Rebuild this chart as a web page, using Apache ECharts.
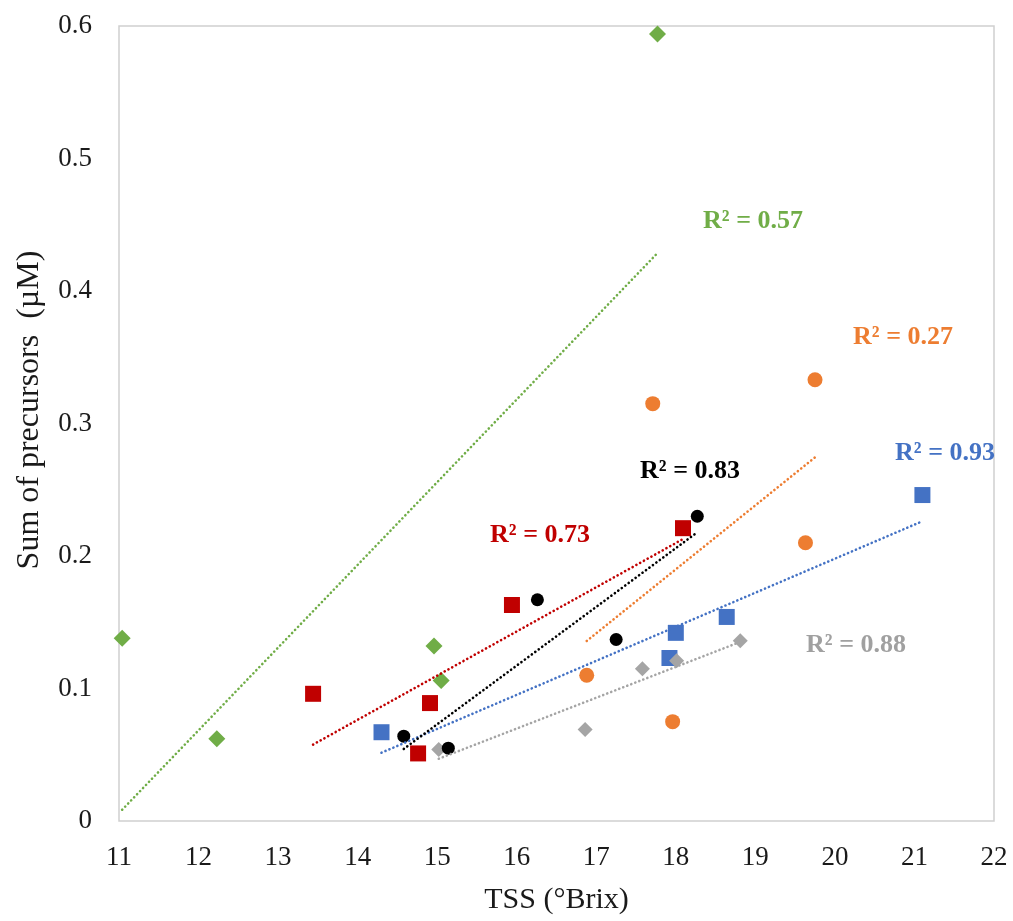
<!DOCTYPE html>
<html>
<head>
<meta charset="utf-8">
<title>TSS vs Sum of precursors</title>
<script src="https://cdn.jsdelivr.net/npm/echarts@6.0.0/dist/echarts.min.js"></script>
<style>
  html, body { margin: 0; padding: 0; background: #ffffff; }
  #myChart { width: 1013px; height: 921px; }
</style>
</head>
<body>
<div id="myChart"></div>
<script>
// 数据 (TSS °Brix, sum of precursors µM)
var greenX = [11.04, 12.23, 14.96, 15.05, 17.77];
var greenY = [0.138, 0.062, 0.132, 0.106, 0.594];

var redX = [13.44, 14.76, 14.91, 15.94, 18.09];
var redY = [0.096, 0.051, 0.089, 0.163, 0.221];

var blackX = [14.58, 15.14, 16.26, 17.25, 18.27];
var blackY = [0.064, 0.055, 0.167, 0.137, 0.230];

var blueX = [14.30, 17.92, 18.00, 18.64, 21.10];
var blueY = [0.067, 0.123, 0.142, 0.154, 0.246];

var greyX = [15.02, 16.86, 17.58, 18.01, 18.81];
var greyY = [0.054, 0.069, 0.115, 0.121, 0.136];

var orangeX = [16.88, 17.71, 17.96, 19.63, 19.75];
var orangeY = [0.110, 0.315, 0.075, 0.210, 0.333];

var xTicks = [11, 12, 13, 14, 15, 16, 17, 18, 19, 20, 21, 22];
var yTicks = [0, 0.1, 0.2, 0.3, 0.4, 0.5, 0.6];

var r2Labels = ['R² = 0.57', 'R² = 0.73', 'R² = 0.83', 'R² = 0.27', 'R² = 0.93', 'R² = 0.88'];

var serif = '"Liberation Serif", "Times New Roman", serif';

// 把 x,y 两个数组合成点
function pairs(xs, ys) {
  return xs.map(function (x, i) { return [x, ys[i]]; });
}

// 最小二乘趋势线, 从最小 x 画到最大 x
function trend(xs, ys) {
  var n = xs.length, mx = 0, my = 0, sxy = 0, sxx = 0;
  xs.forEach(function (x, i) { mx += x / n; my += ys[i] / n; });
  xs.forEach(function (x, i) {
    sxy += (x - mx) * (ys[i] - my);
    sxx += (x - mx) * (x - mx);
  });
  var k = sxy / sxx, b = my - k * mx;
  var x0 = Math.min.apply(null, xs), x1 = Math.max.apply(null, xs);
  return [[x0, k * x0 + b], [x1, k * x1 + b]];
}

function scatter(name, xs, ys, symbol, size, color) {
  return {
    name: name,
    type: 'scatter',
    symbol: symbol,
    symbolSize: size,
    itemStyle: { color: color, opacity: 1 },
    data: pairs(xs, ys),
    z: 3
  };
}

// 圆点虚线 (Excel round dot)
function trendLine(name, xs, ys, color) {
  return {
    name: name + ' trend',
    type: 'line',
    showSymbol: false,
    silent: true,
    lineStyle: { color: color, width: 2.6, type: [0.1, 4.2], cap: 'round' },
    data: trend(xs, ys),
    z: 4
  };
}

function r2Text(text, x, y, color) {
  return {
    type: 'text',
    x: x,
    y: y,
    style: {
      text: text,
      fill: color,
      font: 'bold 26px ' + serif,
      textAlign: 'center',
      textVerticalAlign: 'middle'
    }
  };
}

var myChart = echarts.init(document.getElementById('myChart'));

myChart.setOption({
  backgroundColor: '#ffffff',
  animation: false,
  grid: {
    left: 119,
    right: 19,
    top: 26,
    bottom: 100,
    show: true,
    borderColor: '#d0d0d0',
    borderWidth: 1.5
  },
  xAxis: {
    type: 'value',
    min: xTicks[0],
    max: xTicks[xTicks.length - 1],
    interval: 1,
    name: 'TSS (°Brix)',
    nameLocation: 'middle',
    nameGap: 64,
    nameTextStyle: { fontFamily: serif, fontSize: 30, color: '#1a1a1a' },
    axisLine: { show: false },
    axisTick: { show: false },
    splitLine: { show: false },
    axisLabel: { fontFamily: serif, fontSize: 27, color: '#1a1a1a', margin: 23 }
  },
  yAxis: {
    type: 'value',
    min: yTicks[0],
    max: yTicks[yTicks.length - 1],
    interval: 0.1,
    axisLine: { show: false },
    axisTick: { show: false },
    splitLine: { show: false },
    axisLabel: {
      fontFamily: serif,
      fontSize: 27,
      color: '#1a1a1a',
      margin: 27,
      formatter: function (v) { return v === 0 ? '0' : v.toFixed(1); }
    }
  },
  graphic: [
    {
      type: 'text',
      x: 30,
      y: 410,
      rotation: Math.PI / 2,
      style: {
        text: 'Sum of precursors  (µM)',
        fill: '#1a1a1a',
        font: '32px ' + serif,
        textAlign: 'center',
        textVerticalAlign: 'middle'
      }
    },
    r2Text(r2Labels[0], 753, 221, '#70ad47'),
    r2Text(r2Labels[1], 540, 535, '#c00000'),
    r2Text(r2Labels[2], 690, 471, '#000000'),
    r2Text(r2Labels[3], 903, 337, '#ed7d31'),
    r2Text(r2Labels[4], 945, 453, '#4472c4'),
    r2Text(r2Labels[5], 856, 645, '#a0a0a0')
  ],
  series: [
    scatter('green', greenX, greenY, 'diamond', 17, '#70ad47'),
    scatter('orange', orangeX, orangeY, 'circle', 15, '#ed7d31'),
    scatter('red', redX, redY, 'rect', 16, '#c00000'),
    scatter('blue', blueX, blueY, 'rect', 16, '#4472c4'),
    scatter('grey', greyX, greyY, 'diamond', 15, '#a5a5a5'),
    scatter('black', blackX, blackY, 'circle', 13, '#000000'),
    trendLine('green', greenX, greenY, '#70ad47'),
    trendLine('orange', orangeX, orangeY, '#ed7d31'),
    trendLine('red', redX, redY, '#c00000'),
    trendLine('blue', blueX, blueY, '#4472c4'),
    trendLine('grey', greyX, greyY, '#a5a5a5'),
    trendLine('black', blackX, blackY, '#000000')
  ]
});

window.onresize = function () {
  myChart.resize();
};
</script>
</body>
</html>
